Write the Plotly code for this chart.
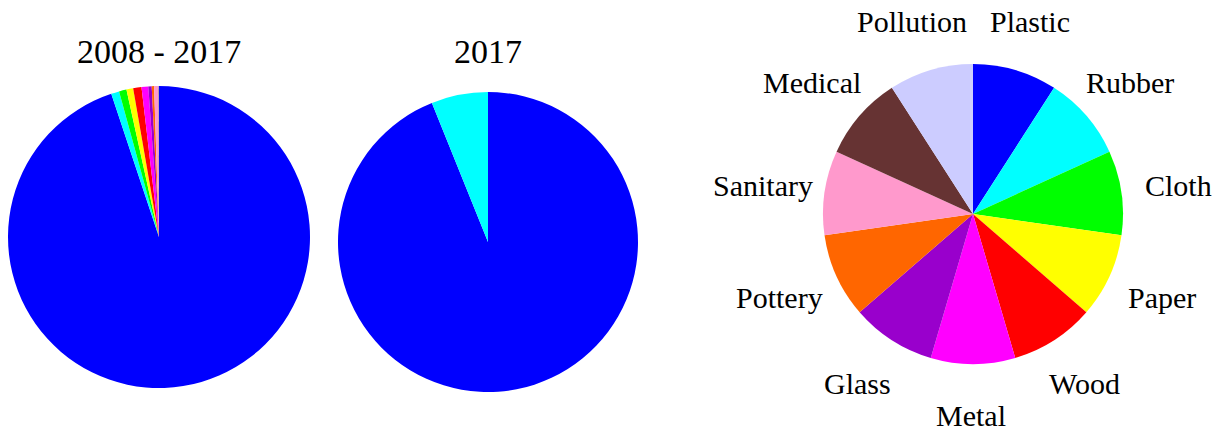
import math
import plotly.graph_objects as go

categories = ["Plastic", "Rubber", "Cloth", "Paper", "Wood", "Metal",
              "Glass", "Pottery", "Sanitary", "Medical", "Pollution"]
colors = ["#0000FF", "#00FFFF", "#00FF00", "#FFFF00", "#FF0000", "#FF00FF",
          "#9900CC", "#FF6600", "#FF99CC", "#663333", "#CCCCFF"]

# Share (%) of each category
values_2008_2017 = [94.88, 0.86, 0.80, 0.72, 0.89, 0.72, 0.36, 0.25, 0.44, 0.05, 0.03]
values_2017 = [93.9, 6.1, 0, 0, 0, 0, 0, 0, 0, 0, 0]
values_legend = [1] * 11

titles = ["2008 - 2017", "2017"]

W, H = 1225, 433
OFF = 8  # page body margin in the browser
FONT = "Liberation Serif, Times New Roman, serif"


def dom(cx, cy, r):
    cx -= OFF
    cy -= OFF
    return dict(x=[(cx - r) / W, (cx + r) / W],
                y=[(H - cy - r) / H, (H - cy + r) / H])


pies = [
    (values_2008_2017, dom(159, 237, 151)),
    (values_2017, dom(488, 242, 150)),
    (values_legend, dom(973, 214, 150)),
]

fig = go.Figure()
for vals, d in pies:
    fig.add_trace(go.Pie(
        labels=categories, values=vals, domain=d,
        marker=dict(colors=colors, line=dict(width=0)),
        sort=False, direction="clockwise", rotation=0,
        textinfo="none", hoverinfo="label+percent",
        showlegend=False,
    ))

annotations = []
# titles above the first two pies
for t, (vals, d) in zip(titles, pies[:2]):
    cx = (d["x"][0] + d["x"][1]) / 2
    annotations.append(dict(text=t, x=cx, y=(H - (51 - OFF)) / H, xref="paper", yref="paper",
                            xanchor="center", yanchor="middle", showarrow=False,
                            font=dict(family=FONT, size=34, color="black")))

# category labels around the third pie, placed at each slice's mid angle
vals, d = pies[2]
cxp = (d["x"][0] + d["x"][1]) / 2 * W - 2
cyp = H - (d["y"][0] + d["y"][1]) / 2 * H
rad = (d["x"][1] - d["x"][0]) / 2 * W
total = sum(vals)
cum = 0
for lab, v in zip(categories, vals):
    mid = (cum + v / 2) / total * 2 * math.pi
    cum += v
    lx = cxp + 1.40 * rad * math.sin(mid)
    ly = cyp - 1.34 * rad * math.cos(mid)
    annotations.append(dict(text=lab, x=lx / W, y=(H - ly) / H, xref="paper", yref="paper",
                            xanchor="center", yanchor="middle", showarrow=False,
                            font=dict(family=FONT, size=30, color="black")))

fig.update_layout(
    width=W, height=H,
    margin=dict(l=0, r=0, t=0, b=0),
    paper_bgcolor="white", plot_bgcolor="white",
    annotations=annotations,
    font=dict(family=FONT),
)

fig.write_html("out.html")
